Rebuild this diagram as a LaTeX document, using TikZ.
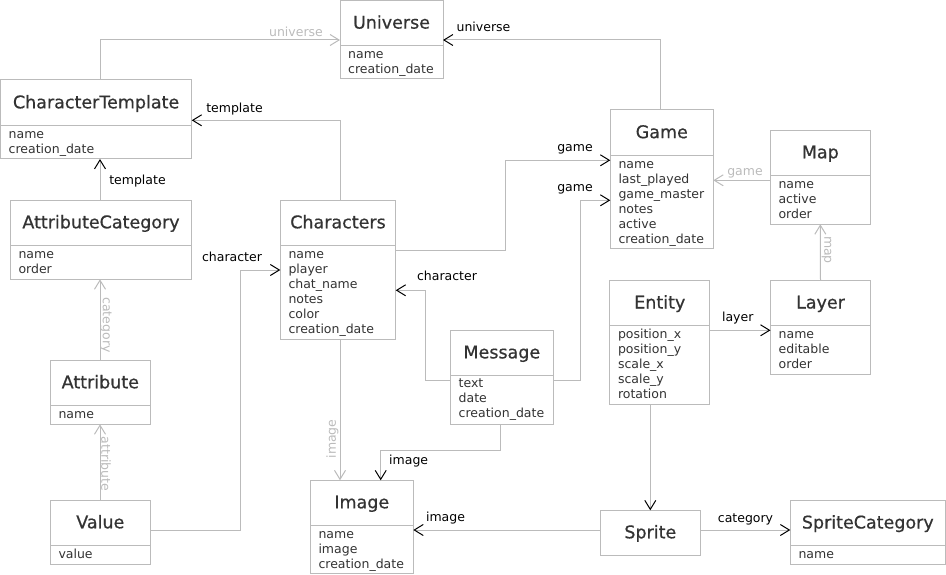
\documentclass[tikz,border=0pt]{standalone}
\usepackage{fontspec}
\setmainfont{DejaVu Sans}
\newfontface\titlefont{DejaVu Sans}[FakeBold=0.6]
\usetikzlibrary{arrows.meta,calc}
\definecolor{linec}{HTML}{BBBBBB}
\definecolor{txtc}{HTML}{333333}
\definecolor{lblgc}{HTML}{BBBBBB}
\tikzset{
 clsbox/.style={draw=linec, line width=1pt, inner sep=0pt, outer sep=0pt, fill=white},
 boxline/.style={draw=linec, line width=1pt},
 ttl/.style={text=txtc, font=\titlefont\fontsize{17.5}{21}\selectfont, inner sep=0pt},
 attr/.style={text=txtc, font=\fontsize{12.5}{15}\selectfont, inner sep=0pt},
 lbl/.style={text=black, font=\fontsize{12.5}{15}\selectfont, inner sep=0pt},
 lblg/.style={lbl, text=lblgc},
 assoc/.style={draw=linec, line width=1pt, -{Straight Barb[length=9pt,width=11pt,line width=1pt,color=black]}},
 assocg/.style={draw=linec, line width=1pt, -{Straight Barb[length=9pt,width=11pt,line width=1pt,color=linec]}},
}
\newcommand\umlclass[8]{%
 \node[clsbox, anchor=north west, minimum width=#4, minimum height=#5+#6] (#1) at (#2,#3) {};
 \draw[boxline] ($(#1.north west)+(0,#5)$) -- ($(#1.north east)+(0,#5)$);
 \node[ttl, anchor=base] (#1-t) at ($(#1.north west)+(#4/2,#5/2+5.5)$) {#7};
 \foreach \a [count=\i] in {#8} {\node[attr, anchor=base west] (#1-\i) at ($(#1.north west)+(8,#5+12.8+15*\i-15)$) {\a};}
}
\begin{document}
\begin{tikzpicture}[x=1pt,y=-1pt]
\useasboundingbox (0,0) rectangle (946,575);
% classes: name, x, y, width, header height, body height, title, attributes
\umlclass{Universe}{340}{0.5}{103}{45.2}{33.3}{Universe}{name,creation\_date}
\umlclass{CT}{0.5}{80}{191.2}{45.7}{33.3}{CharacterTemplate}{name,creation\_date}
\umlclass{AC}{10.3}{200.3}{181.4}{45}{34}{AttributeCategory}{name,order}
\umlclass{Characters}{280.3}{200.3}{115.4}{45}{94}{Characters}{name,player,chat\_name,notes,color,creation\_date}
\umlclass{Attribute}{50.3}{360.3}{100}{45}{19}{Attribute}{name}
\umlclass{Value}{50.3}{500.3}{100}{45}{19}{Value}{value}
\umlclass{Image}{310.3}{480.3}{103}{45}{48.5}{Image}{name,image,creation\_date}
\umlclass{Game}{610.3}{110}{103}{45.3}{93.5}{Game}{name,last\_played,game\_master,notes,active,creation\_date}
\umlclass{Map}{770.3}{130.3}{100}{45}{49}{Map}{name,active,order}
\umlclass{Entity}{609.8}{280.7}{100}{44.6}{78.7}{Entity}{position\_x,position\_y,scale\_x,scale\_y,rotation}
\umlclass{Layer}{770.5}{280.7}{100}{44.6}{48.7}{Layer}{name,editable,order}
\umlclass{Message}{450.5}{330.7}{102.7}{44.3}{49.3}{Message}{text,date,creation\_date}
\umlclass{SC}{790.3}{500.3}{155}{45.4}{18.6}{SpriteCategory}{name}
\node[clsbox, anchor=north west, minimum width=100, minimum height=45] (Sprite) at (600.3,510.3) {};
\node[ttl, anchor=base] (Sprite-t) at ($(Sprite.north west)+(50,28)$) {Sprite};
% bend coordinates
\coordinate (b1) at (100,40);
\coordinate (b2) at (660.7,40);
\coordinate (b3) at (340,120.3);
\coordinate (vc) at (240.3,270);
\coordinate (cg) at (505.7,160.3);
\coordinate (mc) at (425.4,290.3);
\coordinate (mg) at (580,200.3);
\coordinate (mi) at (380.7,450.3);
\coordinate (mx) at (500.4,450.3);
% connectors
\draw[assocg] (CT.north -| b1) |- (Universe.west |- b1);
\draw[assoc] (Game.north -| b2) |- (Universe.east |- b2);
\draw[assoc] (Characters.north -| b3) |- (CT.east |- b3);
\draw[assoc] (AC.north -| b1) -- (CT.south -| b1);
\draw[assocg] (Attribute.north -| b1) -- (AC.south -| b1);
\draw[assocg] (Value.north -| b1) -- (Attribute.south -| b1);
\draw[assoc] (Value.east |- 0,530) -| (vc) -- (Characters.west |- vc);
\draw[assoc] (Characters.east |- 0,250) -| (cg) -- (Game.west |- cg);
\draw[assoc] (Message.west |- 0,380) -| (mc) -- (Characters.east |- mc);
\draw[assoc] (Message.east |- 0,380) -| (mg) -- (Game.west |- mg);
\draw[assocg] (Map.west |- 0,180.3) -- (Game.east |- 0,180.3);
\draw[assocg] (Layer.north) -- (Map.south);
\draw[assoc] (Entity.east |- 0,330.3) -- (Layer.west |- 0,330.3);
\draw[assoc] (Entity.south -| Sprite.north) -- (Sprite.north);
\draw[assoc] (Sprite.east |- 0,530) -- (SC.west |- 0,530);
\draw[assoc] (Sprite.west |- 0,530) -- (Image.east |- 0,530);
\draw[assocg] (Characters.south -| b3) -- (Image.north -| b3);
\draw[assoc] (Message.south -| mx) -- (mx) -- (mi) -- (Image.north -| mi);
% labels
\node[lblg, anchor=base] (lu1) at (296,36.7) {universe};
\node[lbl, anchor=base] (lu2) at (483.5,31.7) {universe};
\node[lbl, anchor=base] (lt1) at (234.5,113) {template};
\node[lbl, anchor=base] (lt2) at (137.5,184.3) {template};
\node[lbl, anchor=base] (lg1) at (575,151.7) {game};
\node[lbl, anchor=base] (lg2) at (575,191.7) {game};
\node[lblg, anchor=base] (lg3) at (745,176) {game};
\node[lblg, rotate=-90] (lm) at (826.5,250) {map};
\node[lbl, anchor=base] (lc1) at (232,261.7) {character};
\node[lbl, anchor=base] (lc2) at (447,280.7) {character};
\node[lblg, rotate=-90] (lcat) at (106,325) {category};
\node[lblg, rotate=-90] (latt) at (106,464) {attribute};
\node[lblg, rotate=90] (limg) at (332.5,439) {image};
\node[lbl, anchor=base] (li1) at (408.7,464.3) {image};
\node[lbl, anchor=base] (li2) at (445.5,521.7) {image};
\node[lbl, anchor=base] (ll) at (737.7,321.7) {layer};
\node[lbl, anchor=base] (lsc) at (745.5,522.7) {category};
\end{tikzpicture}
\end{document}
